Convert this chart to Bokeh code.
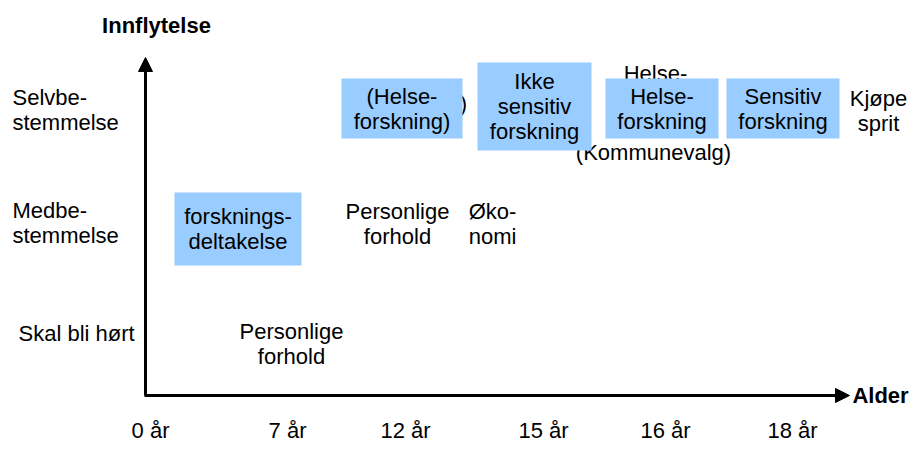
from bokeh.plotting import figure
from bokeh.models import Range1d, Arrow, NormalHead
from bokeh.core.properties import value
from bokeh.embed import file_html
from bokeh.resources import INLINE

# ---- data (positions in the chart's coordinate space) ----
ages = ["0 år", "7 år", "12 år", "15 år", "16 år", "18 år"]
age_x = [150, 287, 405, 543, 665, 792]

levels = ["Skal bli hørt", "Medbe-\nstemmelse", "Selvbe-\nstemmelse"]
level_y = [333, 222, 109]
level_x = [18, 12, 12]

plain_text = ["Personlige\nforhold", "Personlige\nforhold", "Øko-\nnomi", "Kjøpe\nsprit",
              "Helse-", "(Kommunevalg)", ")"]
plain_x = [291, 397, 492, 878, 655, 653, 463]
plain_y = [343, 223, 223, 110, 73, 152, 103]

box_text = ["forsknings-\ndeltakelse", "(Helse-\nforskning)", "Ikke\nsensitiv\nforskning",
            "Helse-\nforskning", "Sensitiv\nforskning"]
box_x = [237.5, 401.5, 534, 661.5, 782.5]
box_y = [228.5, 108, 106, 108, 108]
box_w = [127, 121, 114, 113, 113]
box_h = [73, 60, 88, 60, 60]

FONT = value("Liberation Sans")

p = figure(width=910, height=445, output_backend="svg", toolbar_location=None,
           x_range=Range1d(0, 910), y_range=Range1d(445, 0),
           x_axis_type=None, y_axis_type=None, min_border=0)
p.grid.visible = False
p.outline_line_color = None
p.background_fill_color = "white"

common = dict(text_font=FONT, text_font_size="22px", text_color="black",
              text_line_height=1.0)

# texts partly hidden behind boxes
p.text(x=plain_x, y=plain_y, text=plain_text, text_align="center",
       text_baseline="middle", **common)

# boxes
p.rect(x=box_x, y=box_y, width=box_w, height=box_h, fill_color="#99CCFF",
       line_color=None)
p.text(x=box_x, y=box_y, text=box_text, text_align="center",
       text_baseline="middle", **common)

# level labels
p.text(x=level_x, y=level_y, text=levels, text_align="left",
       text_baseline="middle", **common)

# age tick labels
p.text(x=age_x, y=[430] * len(ages), text=ages, text_align="center",
       text_baseline="middle", **common)

# axis titles
p.text(x=[156], y=[25], text=["Innflytelse"], text_align="center", text_baseline="middle",
       text_font=FONT, text_font_size="22px", text_font_style="bold")
p.text(x=[880], y=[395], text=["Alder"], text_align="center", text_baseline="middle",
       text_font=FONT, text_font_size="22px", text_font_style="bold")

# axes arrows
p.add_layout(Arrow(end=NormalHead(size=14, fill_color="black", line_color="black"),
                   x_start=145, y_start=395, x_end=145, y_end=57,
                   line_width=3, line_color="black"))
p.add_layout(Arrow(end=NormalHead(size=14, fill_color="black", line_color="black"),
                   x_start=144, y_start=395, x_end=849, y_end=395,
                   line_width=3, line_color="black"))

open("out.html", "w").write(file_html(p, INLINE))
